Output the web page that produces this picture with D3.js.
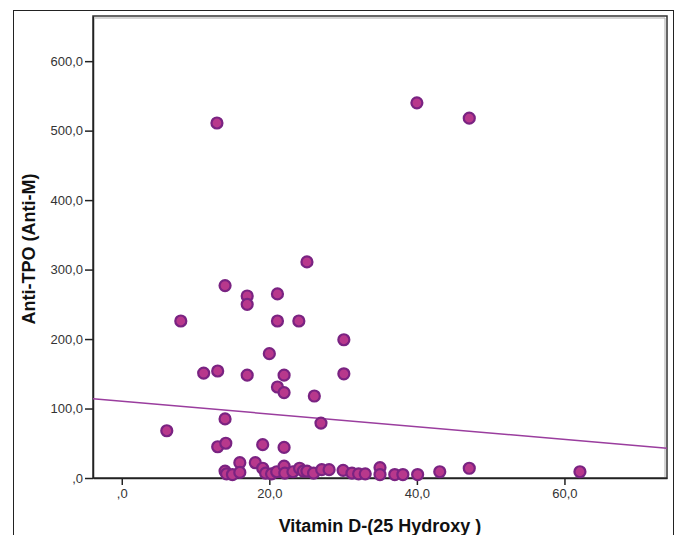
<!DOCTYPE html>
<html lang="en">
<head>
<meta charset="utf-8" />
<title>Vitamin D vs Anti-TPO</title>
<script src="https://cdn.jsdelivr.net/npm/d3@7"></script>
<style>
  body { margin: 0; background: #fff; }
  text { font-family: Arial, "Liberation Sans", sans-serif; }
</style>
</head>
<body>
<svg width="677" height="535"></svg>
<script>
// values
var vitD = [12.9, 40.0, 47.1, 14.0, 17.0, 17.0, 21.1, 25.1, 8.0, 21.1, 24.0, 30.1, 20.0, 11.1, 13.0,
            17.0, 22.0, 30.1, 21.1, 22.0, 26.1, 14.0, 27.0, 6.1, 13.0, 14.1, 19.1, 22.0, 16.0, 18.1,
            14.0, 14.2, 15.0, 16.0, 19.1, 19.5, 20.3, 21.0, 22.0, 22.1, 23.2, 24.1, 24.6, 25.1, 26.0,
            27.1, 28.1, 30.0, 31.2, 32.1, 33.0, 35.0, 35.0, 37.0, 38.1, 40.1, 43.1, 47.1, 62.1];
var antiTPO = [511, 540, 518, 277, 262, 250, 265, 311, 226, 226, 226, 199, 179, 151, 154,
               148, 148, 150, 131, 123, 118, 85, 79, 68, 45, 50, 48, 44, 22, 22,
               10, 6, 5, 8, 14, 7, 6, 9, 17, 7, 9, 14, 10, 10, 7,
               12, 12, 11, 7, 6, 6, 15, 5, 5, 5, 5, 9, 14, 9];
var xTicks = [0, 20, 40, 60];
var yTicks = [0, 100, 200, 300, 400, 500, 600];
// fit line (intercept, slope)
var fitLine = [110.4, -0.913];

var svg = d3.select("svg");
var plotL = 93, plotT = 16, plotR = 667, plotB = 478;

var x = d3.scaleLinear().domain([-3.9, 73.9]).range([plotL, plotR]);
var y = d3.scaleLinear().domain([0, 665]).range([plotB, plotT]);
var fmt = function (d) { return d === 0 ? ",0" : d + ",0"; };

// outer frame
svg.append("rect").attr("x", 13.5).attr("y", 10.5).attr("width", 660).attr("height", 540)
    .attr("fill", "#fff").attr("stroke", "#222").attr("stroke-width", 1);

// plot frame
svg.append("rect").attr("x", plotL).attr("y", plotT).attr("width", plotR - plotL).attr("height", plotB - plotT)
    .attr("fill", "#fff").attr("stroke", "#333").attr("stroke-width", 1.5);
svg.append("polyline")
    .attr("points", (plotL + 2) + "," + (plotT + 2) + " " + (plotR - 2) + "," + (plotT + 2) + " " + (plotR - 2) + "," + (plotB - 1))
    .attr("fill", "none").attr("stroke", "#aaa").attr("stroke-width", 1);

var yAxis = svg.append("g").attr("transform", "translate(" + plotL + ",0)")
    .call(d3.axisLeft(y).tickValues(yTicks).tickFormat(fmt).tickSize(8).tickPadding(2).tickSizeOuter(0));
var xAxis = svg.append("g").attr("transform", "translate(0," + plotB + ")")
    .call(d3.axisBottom(x).tickValues(xTicks).tickFormat(fmt).tickSize(7).tickPadding(4).tickSizeOuter(0));
[yAxis, xAxis].forEach(function (g) {
    g.select(".domain").attr("stroke", "#222").attr("stroke-width", 1.5);
    g.selectAll(".tick line").attr("stroke", "#222").attr("stroke-width", 1.5);
    g.selectAll(".tick text").attr("fill", "#333").style("font-size", "13px")
        .style("font-family", "Arial, 'Liberation Sans', sans-serif");
});

// regression line
var x0 = x.domain()[0], x1 = x.domain()[1];
svg.append("line")
    .attr("x1", x(x0)).attr("y1", y(fitLine[0] + fitLine[1] * x0))
    .attr("x2", x(x1)).attr("y2", y(fitLine[0] + fitLine[1] * x1))
    .attr("stroke", "#9a3d9e").attr("stroke-width", 1.5);

// points
svg.append("g").selectAll("circle")
    .data(vitD.map(function (v, i) { return [v, antiTPO[i]]; }))
    .enter().append("circle")
    .attr("cx", function (d) { return x(d[0]); })
    .attr("cy", function (d) { return y(d[1]); })
    .attr("r", 5.5)
    .attr("fill", "#b8388c")
    .attr("stroke", "#7a2382")
    .attr("stroke-width", 2.2);

// titles
svg.append("text").attr("x", 380).attr("y", 532).attr("text-anchor", "middle")
    .style("font-size", "18px").style("font-weight", "bold").attr("fill", "#111")
    .text("Vitamin D-(25 Hydroxy )");
svg.append("text").attr("transform", "translate(35,249) rotate(-90)").attr("text-anchor", "middle")
    .style("font-size", "18px").style("font-weight", "bold").attr("fill", "#111")
    .text("Anti-TPO (Anti-M)");
</script>
</body>
</html>
